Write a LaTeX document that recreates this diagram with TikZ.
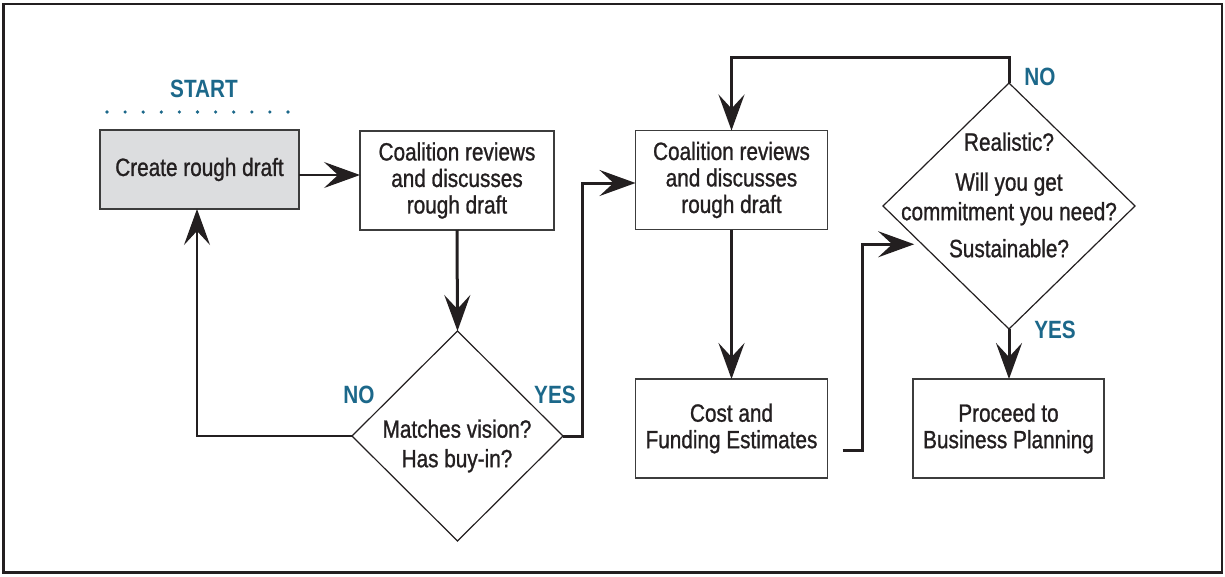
\documentclass[tikz,border=0pt]{standalone}
\usepackage{fontspec}
\setmainfont[FakeStretch=0.83]{Liberation Sans}
\newfontfamily\bodyfont[FakeStretch=0.83,FakeBold=1]{Liberation Sans}
\usetikzlibrary{arrows.meta,shapes.geometric,calc}
\definecolor{ink}{RGB}{35,31,32}
\definecolor{teal}{RGB}{28,104,138}
\definecolor{boxgray}{RGB}{220,221,223}
\definecolor{edge}{RGB}{60,60,60}
\tikzset{
  txt/.style={font=\bodyfont\fontsize{25pt}{26.5pt}\selectfont, text=ink, align=center},
  stepbox/.style={txt, draw=edge, line width=1.3pt, inner sep=0pt, outer sep=0pt,
    minimum width=193pt, minimum height=99pt},
  decision/.style={diamond, draw=ink, line width=1.2pt, inner sep=0pt, outer sep=0pt},
  lbl/.style={font=\fontsize{25pt}{26pt}\selectfont\bfseries, text=teal, anchor=base, inner sep=0pt},
  head/.style={-{Stealth[length=36pt,width=26pt,inset=14pt]}},
  heavy/.style={head, draw=ink, line width=3pt},
  light/.style={head, draw=ink, line width=1.2pt},
}
\begin{document}
\begin{tikzpicture}[x=1pt,y=-1pt]
\useasboundingbox (0,0) rectangle (1225,576);
% outer frame
\draw[draw=ink, line width=2.6pt] (3.3,4) rectangle (1222,572.5);

% start marker
\node[lbl] (start) at (204,97) {START};
\foreach \i in {0,...,10}
  \fill[teal] (107+18.1*\i,112) circle (1.8pt);

% process boxes
\node[stepbox, fill=boxgray, minimum width=199pt, minimum height=79pt] (draft) at (199.5,169.5) {Create rough draft};
\node[stepbox, minimum width=194pt] (review1) at (457,180.5) {Coalition reviews\\and discusses\\rough draft};
\node[stepbox, minimum width=192pt] (review2) at (731.5,180) {Coalition reviews\\and discusses\\rough draft};
\node[stepbox, minimum width=192pt] (cost) at (731.5,428.5) {Cost and\\Funding Estimates};
\node[stepbox, minimum width=191pt] (proceed) at (1008.5,428.5) {Proceed to\\Business Planning};

% decisions
\node[decision, minimum width=211pt, minimum height=210pt] (vision) at (457.5,436) {};
\node[txt] (visiontxt) at (457,446) {Matches vision?\\[3pt]Has buy-in?};
\node[decision, minimum width=252pt, minimum height=246pt] (real) at (1009,206) {};
\node[txt] (realtxt) at (1009,195) {Realistic?\\[13.5pt]Will you get\\[3pt]commitment you need?\\[10.5pt]Sustainable?};

% branch labels
\node[lbl] (no1) at (359,403) {NO};
\node[lbl] (yes1) at (555,403) {YES};
\node[lbl] (no2) at (1040,85) {NO};
\node[lbl] (yes2) at (1055,338) {YES};

% connectors
\draw[light] ([yshift=-5.5pt]draft.east) -- ([yshift=-5.5pt]draft.east -| review1.west);
\draw[heavy] (review1.south) -- (vision.north);
\draw[light] (vision.west) -| ([xshift=-2.5pt]draft.south);
\draw[heavy] (vision.east) -- ++(19,0) |- ([yshift=-3pt]review2.west);
\draw[heavy] (review2.south) -- (cost.north);
\draw[heavy] ([xshift=15pt,yshift=-22pt]cost.east) -- ++(20,0)
  |- ($(real.west)!0.311!(real.south)$) [shorten >=8pt];
\draw[heavy] (real.north) -- ++(0,-26) -| (review2.north);
\draw[heavy] (real.south) -- (real.south |- proceed.north);
\end{tikzpicture}
\end{document}
